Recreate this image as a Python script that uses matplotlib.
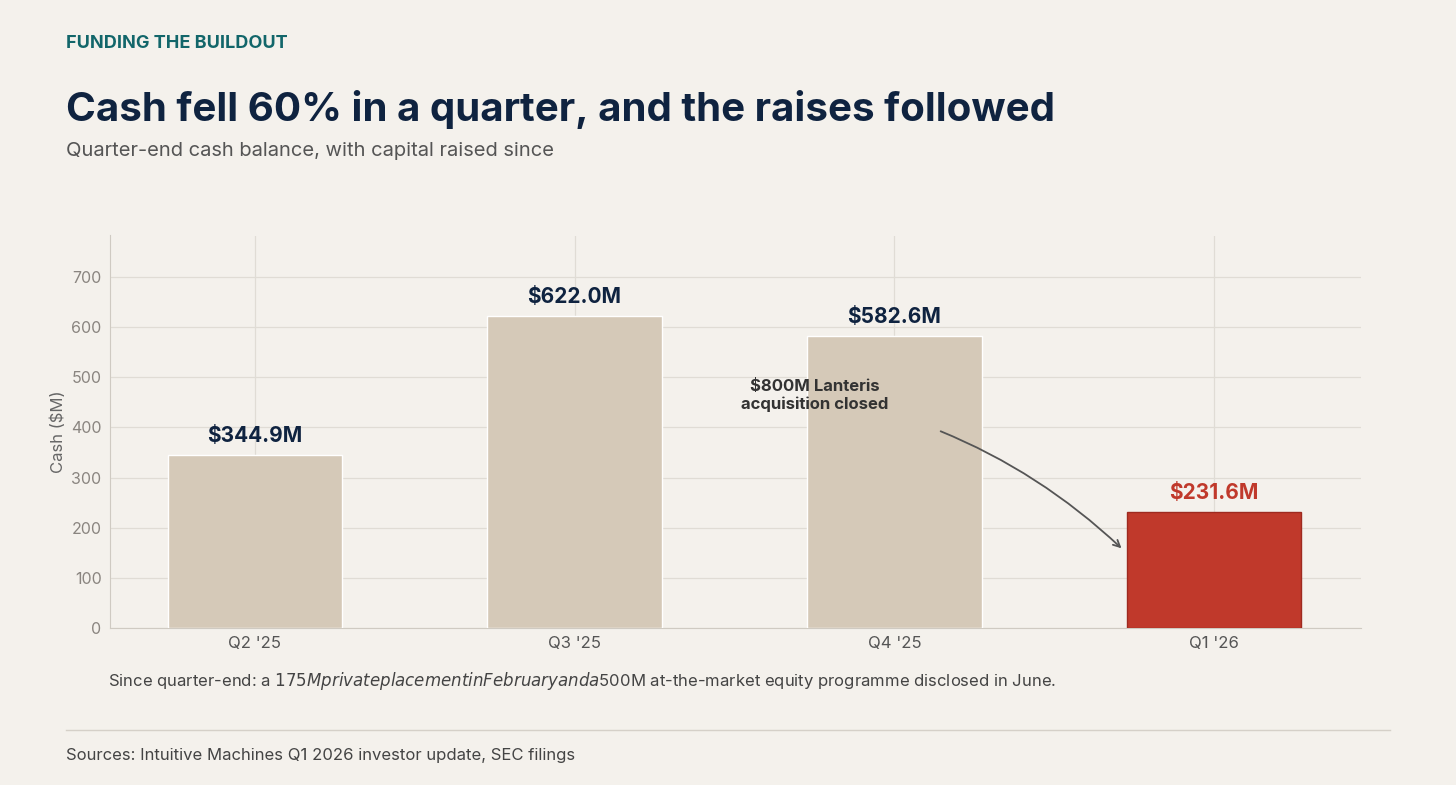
import matplotlib.pyplot as plt

plt.rcParams['font.family'] = ['Inter', 'DejaVu Sans']

quarters = ["Q2 '25", "Q3 '25", "Q4 '25", "Q1 '26"]
cash = [344.9, 622.0, 582.6, 231.6]
labels = ['$344.9M', '$622.0M', '$582.6M', '$231.6M']

bg = '#F4F1EC'
beige = '#D5C9B8'
red = '#C0392B'
navy = '#0F2340'

fig = plt.figure(figsize=(14.56, 7.85), dpi=100, facecolor=bg)
ax = fig.add_axes([0.0755, 0.2, 0.8595, 0.5])
ax.set_facecolor(bg)

x = list(range(len(quarters)))
colors = [beige] * 3 + [red]
edges = ['white'] * 3 + ['#9E2A20']
ax.bar(x, cash, width=0.545, color=colors, edgecolor=edges, linewidth=1, zorder=3)
for xi, v, lab, c in zip(x, cash, labels, colors):
    ax.text(xi, v + 18, lab, ha='center', va='bottom', fontsize=15, fontweight='bold',
            color=red if c == red else navy, zorder=4)

ax.set_xlim(-0.453, 3.46)
ax.set_ylim(0, 783)
ax.set_xticks(x)
ax.set_xticklabels(quarters)
ax.set_yticks(range(0, 701, 100))
ax.tick_params(colors='#8A8580', labelsize=11.5, length=0, pad=6)
ax.tick_params(axis='x', colors='#555', labelsize=12)
ax.set_ylabel('Cash ($M)', color='#666', fontsize=12)
ax.grid(True, color='#E0DCD5', linewidth=0.9, zorder=0)
for s in ['top', 'right']:
    ax.spines[s].set_visible(False)
for s in ['left', 'bottom']:
    ax.spines[s].set_color('#CFCAC2')

ax.annotate('$800M Lanteris\nacquisition closed', xy=(2.71, 159), xytext=(1.75, 464),
            ha='center', va='center', fontsize=12, fontweight='bold', color='#333',
            arrowprops=dict(arrowstyle='->', color='#555', lw=1.3,
                            connectionstyle='arc3,rad=-0.15',
                            shrinkA=38, shrinkB=0), zorder=5)

fig.text(0.045, 0.945, 'FUNDING THE BUILDOUT', fontsize=13, fontweight='bold', color='#12666A', va='center')
fig.text(0.045, 0.86, 'Cash fell 60% in a quarter, and the raises followed', fontsize=29,
         fontweight='bold', color=navy, va='center')
fig.text(0.045, 0.808, 'Quarter-end cash balance, with capital raised since', fontsize=14.5,
         color='#555', va='center')
fig.text(0.0745, 0.133, 'Since quarter-end: a $175M private placement in February and a $500M '
         'at-the-market equity programme disclosed in June.', fontsize=12, color='#444', va='center')
fig.add_artist(plt.Line2D([0.045, 0.955], [0.07, 0.07], color='#D5D0C8', lw=1))
fig.text(0.045, 0.038, 'Sources: Intuitive Machines Q1 2026 investor update, SEC filings',
         fontsize=12, color='#444', va='center')

fig.savefig('out.png', dpi=100, facecolor=bg)
